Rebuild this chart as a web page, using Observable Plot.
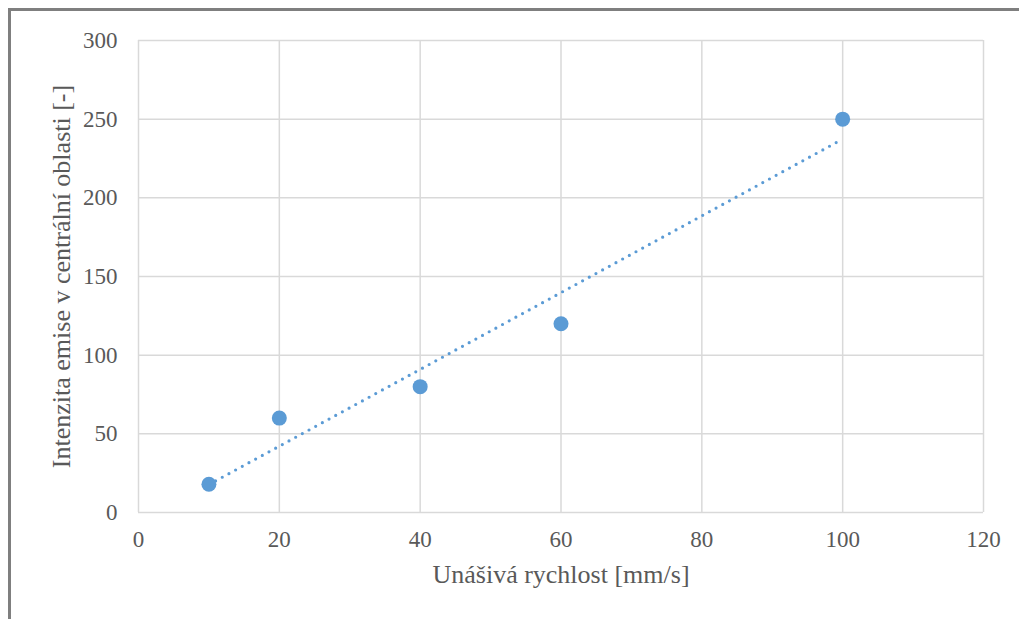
<!DOCTYPE html>
<html>
<head>
<meta charset="utf-8">
<script src="https://cdn.jsdelivr.net/npm/d3@7"></script>
<script src="https://cdn.jsdelivr.net/npm/@observablehq/plot@0.6"></script>
<style>
  html, body { margin: 0; padding: 0; background: #fff; }
  #wrap { position: relative; width: 1019px; height: 619px; overflow: hidden; }
  #border { position: absolute; left: 8px; top: 8px; width: 1100px; height: 700px;
            border-left: 3px solid #7f7f7f; border-top: 3px solid #7f7f7f; box-sizing: border-box; }
  #chart { position: absolute; left: 0; top: 0; }
</style>
</head>
<body>
<div id="wrap"><div id="border"></div><div id="chart"></div></div>
<script>
const speed = [10, 20, 40, 60, 100];
const intensity = [18, 60, 80, 120, 250];
const xTicks = [0, 20, 40, 60, 80, 100, 120];
const yTicks = [0, 50, 100, 150, 200, 250, 300];
const xLabel = "Unášivá rychlost [mm/s]";
const yLabel = "Intenzita emise v centrální oblasti [-]";

const data = speed.map((s, i) => ({x: s, y: intensity[i]}));
const blue = "#5b9bd5";

const chart = Plot.plot({
  width: 1019,
  height: 619,
  marginLeft: 138,
  marginRight: 36,
  marginTop: 40,
  marginBottom: 107,
  style: {fontFamily: "'Liberation Serif', 'Times New Roman', serif", background: "transparent", color: "#595959"},
  x: {domain: [0, 120], ticks: xTicks, label: null},
  y: {domain: [0, 300], ticks: yTicks, label: null},
  marks: [
    Plot.ruleX(xTicks, {stroke: "#d9d9d9", strokeWidth: 1.5}),
    Plot.ruleY(yTicks, {stroke: "#d9d9d9", strokeWidth: 1.5}),
    Plot.axisX({ticks: xTicks, tickSize: 0, tickPadding: 18, fontSize: 23, fill: "#595959", label: null}),
    Plot.axisY({ticks: yTicks, tickSize: 0, tickPadding: 21, fontSize: 23, fill: "#595959", label: null}),
    Plot.linearRegressionY(data, {x: "x", y: "y", ci: 0, stroke: blue, strokeWidth: 3.2,
      strokeDasharray: "0 7.6", strokeLinecap: "round"}),
    Plot.dot(data, {x: "x", y: "y", r: 7.5, fill: blue, stroke: "none"}),
    Plot.text([xLabel], {frameAnchor: "bottom", dy: 70, fontSize: 26, fill: "#595959", textAnchor: "middle"}),
    Plot.text([yLabel], {frameAnchor: "left", dx: -77, rotate: -90, fontSize: 26, fill: "#595959", textAnchor: "middle"})
  ]
});
document.getElementById("chart").appendChild(chart);
</script>
</body>
</html>
